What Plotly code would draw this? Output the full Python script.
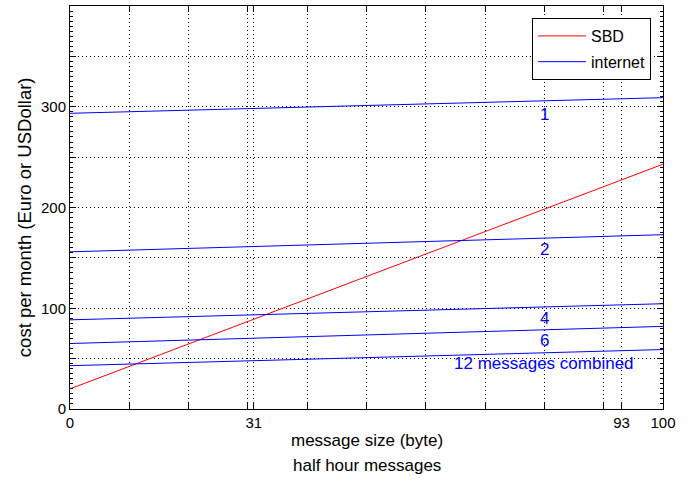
import plotly.graph_objects as go

# ---- data ----
msg_size = [0, 100]
sbd_cost = [20, 243]
internet_1 = [293.5, 309]
internet_2 = [156, 173]
internet_4 = [88.5, 104.5]
internet_6 = [65, 82]
internet_12 = [43, 59]
internet_series = [internet_1, internet_2, internet_4, internet_6, internet_12]
line_labels = ["1", "2", "4", "6", "12 messages combined"]
label_x = 80
label_y = [292, 158, 90, 68, 45]
x_tickvals = [0, 31, 93, 100]
y_tickvals = [0, 50, 100, 150, 200, 250, 300, 350, 400]
y_ticktext = ["0", "", "100", "", "200", "", "300", "", ""]

FONT = "Liberation Sans, Arial, sans-serif"
BLUE = "#0000ff"
RED = "#ff0000"

fig = go.Figure()
fig.add_trace(go.Scatter(x=msg_size, y=sbd_cost, mode="lines", name="SBD",
                         line=dict(color=RED, width=1)))
for i, ys in enumerate(internet_series):
    fig.add_trace(go.Scatter(x=msg_size, y=ys, mode="lines", name="internet",
                             showlegend=(i == 0), legendgroup="internet",
                             line=dict(color=BLUE, width=1)))

for txt, yv in zip(line_labels, label_y):
    fig.add_annotation(x=label_x, y=yv, text=txt, showarrow=False,
                       xanchor="center", yanchor="middle",
                       font=dict(family=FONT, size=17, color=BLUE))

# axis titles
fig.add_annotation(xref="paper", yref="paper", x=0.5, y=-0.079,
                   text="message size (byte)", showarrow=False,
                   xanchor="center", yanchor="middle",
                   font=dict(family=FONT, size=17, color="#000000"))
fig.add_annotation(xref="paper", yref="paper", x=0.5, y=-0.141,
                   text="half hour messages", showarrow=False,
                   xanchor="center", yanchor="middle",
                   font=dict(family=FONT, size=17, color="#000000"))
fig.add_annotation(xref="paper", yref="paper", x=-0.0776, y=0.476,
                   text="cost per month (Euro or USDollar)", showarrow=False,
                   textangle=-90, xanchor="center", yanchor="middle",
                   font=dict(family=FONT, size=18.5, color="#000000"))

DOT = "1px,3px"

fig.update_layout(
    width=692, height=483,
    margin=dict(l=70, r=29, t=6, b=74),
    paper_bgcolor="#ffffff", plot_bgcolor="#ffffff",
    font=dict(family=FONT, size=15, color="#000000"),
    showlegend=True,
    legend=dict(x=(651 - 70) / 593, y=(409 - 18) / 403,
                xanchor="right", yanchor="top",
                bgcolor="#ffffff", bordercolor="#000000", borderwidth=1,
                font=dict(family=FONT, size=16, color="#000000"),
                itemwidth=48, tracegroupgap=2),
    xaxis=dict(range=[0, 100], tickmode="array", tickvals=x_tickvals,
               ticks="inside", ticklen=6, tickcolor="#000000",
               showline=True, linecolor="#000000", linewidth=1, mirror="ticks",
               zeroline=False,
               showgrid=True, gridcolor="#000000", gridwidth=1, griddash=DOT,
               minor=dict(dtick=10, tick0=0, ticks="inside", ticklen=6,
                          tickcolor="#000000", showgrid=True,
                          gridcolor="#000000", gridwidth=1, griddash=DOT),
               tickfont=dict(family=FONT, size=15)),
    yaxis=dict(range=[0, 400], tickmode="array", tickvals=y_tickvals,
               ticktext=y_ticktext,
               ticks="inside", ticklen=6, tickcolor="#000000",
               showline=True, linecolor="#000000", linewidth=1, mirror="ticks",
               zeroline=False,
               showgrid=True, gridcolor="#000000", gridwidth=1, griddash=DOT,
               minor=dict(dtick=5, tick0=0, ticks="inside", ticklen=3,
                          tickcolor="#000000", showgrid=False),
               tickfont=dict(family=FONT, size=15)),
)

fig.write_html("out.html", config={"displayModeBar": False},
               post_script="document.body.style.margin='0';document.body.style.padding='0';")
